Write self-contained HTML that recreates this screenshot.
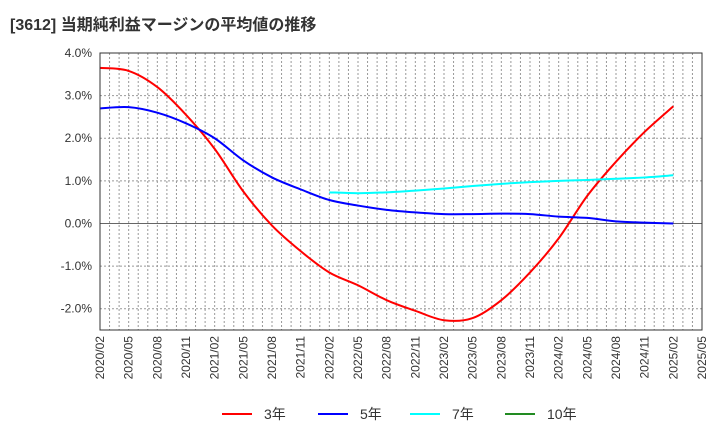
<!DOCTYPE html>
<html><head><meta charset="utf-8"><style>
body{margin:0;background:#fff;}
svg{font-family:"Liberation Sans","Noto Sans CJK JP",sans-serif;}
</style></head><body>
<svg width="720" height="440">
<text x="10" y="30" font-size="16" font-weight="bold" fill="#333">[3612]  当期純利益マージンの平均値の推移</text>
<g id="grid"></g><g id="series"></g><g id="axes"></g><g id="legend"></g>
</svg>
<script>
const xLabels=["2020/02","2020/05","2020/08","2020/11","2021/02","2021/05","2021/08","2021/11","2022/02","2022/05","2022/08","2022/11","2023/02","2023/05","2023/08","2023/11","2024/02","2024/05","2024/08","2024/11","2025/02","2025/05"];
const yTicks=[4,3,2,1,0,-1,-2];
const s3=[3.65,3.58,3.2,2.55,1.75,0.75,-0.05,-0.65,-1.15,-1.45,-1.8,-2.05,-2.27,-2.22,-1.8,-1.15,-0.35,0.65,1.45,2.15,2.75];
const s5=[2.7,2.73,2.6,2.35,2.0,1.48,1.08,0.8,0.55,0.42,0.32,0.26,0.22,0.22,0.23,0.22,0.16,0.13,0.05,0.02,0.0];
const s7b=[0.73,0.71,0.73,0.77,0.82,0.88,0.93,0.97,1.0,1.02,1.05,1.08,1.13];
const s10=[];
const L=100,R=702,T=53,B=330,yMin=-2.5,yMax=4;
const months=63;
const xq=i=>L+(R-L)*(i*3)/months;
const xm=m=>L+(R-L)*m/months;
const y=v=>T+(B-T)*(yMax-v)/(yMax-yMin);
const NS="http://www.w3.org/2000/svg";
function mk(t,a,p){const e=document.createElementNS(NS,t);for(const k in a)e.setAttribute(k,a[k]);p.appendChild(e);return e;}
const grid=document.getElementById('grid'),axes=document.getElementById('axes'),ser=document.getElementById('series'),leg=document.getElementById('legend');
for(let m=1;m<months;m++){const l=mk('line',{x1:xm(m),x2:xm(m),y1:T,y2:B,stroke:'#999','stroke-dasharray':'2,2','stroke-width':1},grid);

}
yTicks.forEach(v=>{const l=mk('line',{x1:L,x2:R,y1:y(v),y2:y(v),stroke:v===0?'#666':'#999','stroke-dasharray':v===0?'none':'2,2'},grid);


const t=mk('text',{x:L-8,y:y(v)+4,'text-anchor':'end','font-size':12,fill:'#333'},axes);t.textContent=v.toFixed(1)+'%';

});
const fr=mk('rect',{x:L,y:T,width:R-L,height:B-T,fill:'none',stroke:'#333'},axes);


xLabels.forEach((s,i)=>{const x=xq(i);const t=mk('text',{x:0,y:0,'text-anchor':'end','font-size':12,fill:'#333',transform:`translate(${x+4},${B+6}) rotate(-90)`},axes);t.textContent=s;

});
function path(vals,off){const p=vals.map((v,i)=>[xq(i+off),y(v)]);let d=`M${p[0][0]},${p[0][1]}`;
for(let i=0;i<p.length-1;i++){const p0=p[i-1]||p[i],p1=p[i],p2=p[i+1],p3=p[i+2]||p2;
d+=` C${p1[0]+(p2[0]-p0[0])/6},${p1[1]+(p2[1]-p0[1])/6} ${p2[0]-(p3[0]-p1[0])/6},${p2[1]-(p3[1]-p1[1])/6} ${p2[0]},${p2[1]}`;}return d;}
const defs=[[s3,0,'#ff0000','series-3yr'],[s5,0,'#0000ff','series-5yr'],[s7b,8,'#00ffff','series-7yr']];
defs.forEach(([v,o,c,n])=>{const e=mk('path',{d:path(v,o),fill:'none',stroke:c,'stroke-width':2},ser);

});
const items=[['3年','#ff0000',222],['5年','#0000ff',318],['7年','#00ffff',410],['10年','#228b22',505]];
items.forEach(([t,c,x])=>{const g=mk('g',{},leg);


mk('line',{x1:x,x2:x+30,y1:414,y2:414,stroke:c,'stroke-width':2},g);
const tx=mk('text',{x:x+42,y:419,'font-size':14,fill:'#333'},g);tx.textContent=t;});
</script>
</body></html>
